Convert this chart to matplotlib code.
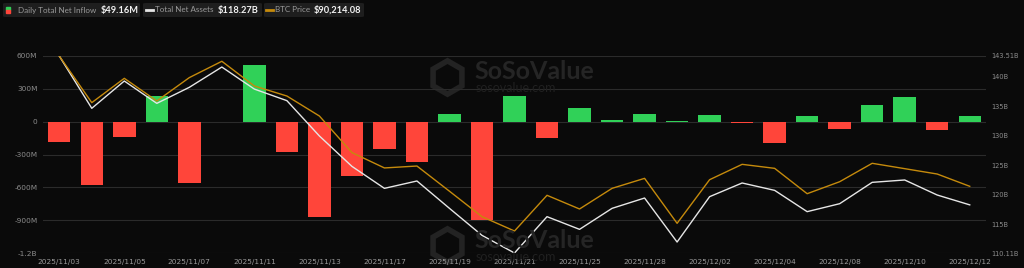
import numpy as np
import matplotlib.pyplot as plt
from matplotlib.patches import FancyBboxPatch
from matplotlib.lines import Line2D
from matplotlib.ticker import FixedLocator

# trading days
dates = ["2025/11/03", "2025/11/04", "2025/11/05", "2025/11/06", "2025/11/07",
         "2025/11/10", "2025/11/11", "2025/11/12", "2025/11/13", "2025/11/14",
         "2025/11/17", "2025/11/18", "2025/11/19", "2025/11/20", "2025/11/21",
         "2025/11/24", "2025/11/25", "2025/11/26", "2025/11/28", "2025/12/01",
         "2025/12/02", "2025/12/03", "2025/12/04", "2025/12/05", "2025/12/08",
         "2025/12/09", "2025/12/10", "2025/12/11", "2025/12/12"]

# daily net inflow, millions USD
net_inflow = [-183, -579, -137, 238, -557, 1, 521, -277, -868, -493,
              -253, -372, 73, -902, 238, -149, 128, 18, 70, 8,
              58, -15, -195, 55, -64, 152, 222, -79, 49.16]

# total net assets, billions USD
net_assets = [143.51, 134.64, 139.27, 135.48, 138.2, 141.64, 137.9, 135.94, 129.95, 124.8,
              121.07, 122.32, 117.68, 113.1, 110.11, 116.27, 114.12, 117.68, 119.43, 111.97,
              119.66, 121.98, 120.73, 117.12, 118.47, 122.09, 122.49, 119.94, 118.27]

# BTC price, USD
btc_price = [106500, 100670, 103710, 100880, 103800, 105840, 102750, 101500, 99000, 94430,
             92510, 92750, 89600, 86420, 84630, 89090, 87380, 89960, 91210, 85590,
             91040, 92960, 92460, 89290, 90790, 93090, 92420, 91750, 90214.08]

BG = "#0a0a0a"
GRID = "#2b2b2b"
TICK = "#8c8c8c"
RED = "#ff453a"
GREEN = "#30d158"
GOLD = "#c58a0c"
WHITE = "#e6e6e6"

W, H = 1024, 268
fig = plt.figure(figsize=(W / 100, H / 100), dpi=100, facecolor=BG)


def fx(x):
    return x / W


def fy(y):
    return 1 - y / H


# watermarks
for cy in (76.5, 245):
    fig.add_artist(Line2D([fx(447)], [fy(cy)], marker="h", markersize=24,
                          markerfacecolor="none", markeredgecolor="#232323",
                          markeredgewidth=4, transform=fig.transFigure, zorder=0))
    fig.text(fx(474), fy(cy - 5), "SoSoValue", color="#252525", fontsize=18,
             fontweight="bold", family="Lato", va="center", ha="left", zorder=0)
    fig.text(fx(476), fy(cy + 12), "sosovalue.com", color="#202020", fontsize=9,
             family="Lato", va="center", ha="left", zorder=0)

ax = fig.add_axes([fx(43), fy(253), fx(986 - 43), (253 - 56) / H])
ax.patch.set_alpha(0)
x = np.arange(len(dates))
colors = [GREEN if v >= 0 else RED for v in net_inflow]
ax.bar(x, np.array(net_inflow) * 1e6, width=0.69, color=colors, zorder=2)
ax.set_ylim(-1.2e9, 0.6e9)
ax.set_xlim(-0.5, len(dates) - 0.5)
left_ticks = [-1.2e9, -0.9e9, -0.6e9, -0.3e9, 0, 0.3e9, 0.6e9]
left_labels = ["-1.2B", "-900M", "-600M", "-300M", "0", "300M", "600M"]
ax.set_yticks(left_ticks)
ax.set_yticklabels(left_labels)
ax.grid(axis="y", color=GRID, linewidth=0.8, zorder=0)
ax.set_xticks(x[::2])
ax.set_xticklabels(dates[::2])
ax.tick_params(axis="both", length=0, colors=TICK, labelsize=5.3, pad=4)
ax.tick_params(axis="x", colors="#9a9a9a", pad=4)
for s in ax.spines.values():
    s.set_visible(False)

ax2 = ax.twinx()
ax2.plot(x, net_assets, color=WHITE, linewidth=1.0, zorder=3)
ax2.set_ylim(110.11, 143.51)
right_ticks = [110.11, 115, 120, 125, 130, 135, 140, 143.51]
ax2.yaxis.set_major_locator(FixedLocator(right_ticks))
ax2.set_yticklabels(["110.11B", "115B", "120B", "125B", "130B", "135B", "140B", "143.51B"])
ax2.tick_params(axis="y", length=0, colors=TICK, labelsize=4.8, pad=4)
for s in ax2.spines.values():
    s.set_visible(False)

ax3 = ax.twinx()
ax3.plot(x, btc_price, color=GOLD, linewidth=1.0, zorder=3)
ax3.set_ylim(81880, 106500)
ax3.set_yticks([])
for s in ax3.spines.values():
    s.set_visible(False)

# legend chips at the top
chips = [
    (3, 140, "Daily Total Net Inflow", "$49.16M", 17.5, 100.5),
    (143, 262, "Total Net Assets", "$118.27B", 155, 218),
    (264, 364, "BTC Price", "$90,214.08", 275, 314),
]
for x0, x1, name, val, tx, vx in chips:
    fig.add_artist(FancyBboxPatch((fx(x0), fy(17)), fx(x1 - x0), 14 / H,
                                  boxstyle="round,pad=0,rounding_size=0.003",
                                  transform=fig.transFigure, facecolor="#1e1e1e",
                                  edgecolor="none", zorder=1))
    fig.text(fx(tx), fy(10), name, color="#9a9a9a", fontsize=5.8, family="Lato",
             va="center", ha="left", zorder=2)
    fig.text(fx(vx), fy(10), val, color="#f2f2f2", fontsize=6.7, family="Lato",
             fontweight="bold", va="center", ha="left", zorder=2)

# chip icons
fig.add_artist(plt.Rectangle((fx(6), fy(9.5)), fx(4), 2.5 / H, color=GREEN,
                             transform=fig.transFigure, zorder=2))
fig.add_artist(plt.Rectangle((fx(6), fy(12.5)), fx(4), 3 / H, color=RED,
                             transform=fig.transFigure, zorder=2))
fig.add_artist(Line2D([fx(146), fx(153)], [fy(10), fy(10)], color=WHITE,
                      linewidth=2, transform=fig.transFigure, zorder=2))
fig.add_artist(Line2D([fx(266), fx(273)], [fy(10), fy(10)], color=GOLD,
                      linewidth=2, transform=fig.transFigure, zorder=2))

fig.savefig("out.png", dpi=100, facecolor=BG)
